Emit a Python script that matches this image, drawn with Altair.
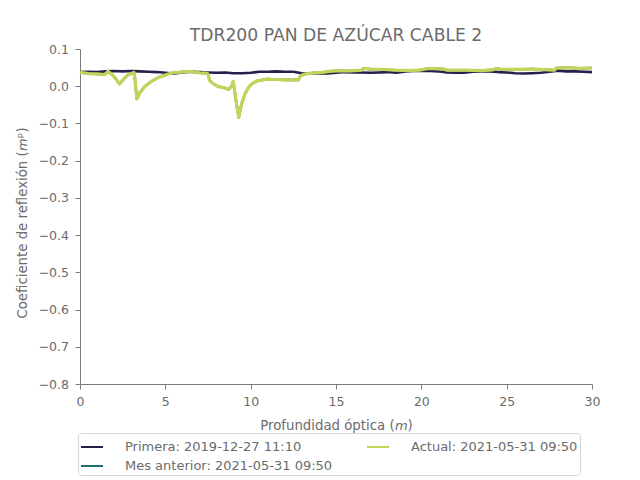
import altair as alt
import pandas as pd

# ---- data ----
primera_x = [i * 0.5 for i in range(61)]
primera_y = [0.038, 0.039, 0.038, 0.040, 0.041, 0.040, 0.041, 0.040, 0.039, 0.038,
             0.036, 0.034, 0.037, 0.039, 0.038, 0.037, 0.036, 0.037, 0.035, 0.035,
             0.036, 0.039, 0.039, 0.040, 0.039, 0.039, 0.035, 0.034, 0.035, 0.034,
             0.036, 0.038, 0.037, 0.037, 0.036, 0.037, 0.038, 0.036, 0.039, 0.041,
             0.042, 0.041, 0.040, 0.037, 0.036, 0.036, 0.039, 0.040, 0.040, 0.038,
             0.037, 0.035, 0.034, 0.035, 0.036, 0.039, 0.042, 0.040, 0.040, 0.039,
             0.038]

actual_x = [0, 0.5, 1.0, 1.45, 1.64, 1.84, 2.1, 2.32, 2.48, 2.81, 3.16, 3.22, 3.33,
            3.5, 3.79, 4.18, 4.67, 5.16, 5.5, 5.9, 6.3, 6.6, 7.0, 7.4, 7.5, 7.6, 7.8,
            8.1, 8.5, 8.7, 8.89, 8.98, 9.14, 9.3, 9.47, 9.67, 9.85, 10.06, 10.35,
            10.94, 11.5, 12.0, 12.5, 12.8, 12.9, 13.3, 13.8, 14.2, 14.6, 15.2, 15.9,
            16.5, 16.6, 17.0, 17.8, 18.5, 19.2, 19.9, 20.4, 21.3, 21.5, 22.5, 23.5,
            24.2, 24.4, 24.6, 25.5, 26.5, 27.5, 27.8, 27.9, 28.5, 29.2, 30.0]
actual_y = [0.037, 0.034, 0.033, 0.031, 0.040, 0.033, 0.020, 0.006, 0.015, 0.031,
            0.037, 0.020, -0.034, -0.018, -0.001, 0.013, 0.025, 0.033, 0.037, 0.038,
            0.040, 0.039, 0.036, 0.035, 0.033, 0.015, 0.007, -0.001, -0.005, -0.009,
            0.001, 0.013, -0.039, -0.084, -0.048, -0.020, -0.005, 0.006, 0.014,
            0.019, 0.018, 0.017, 0.017, 0.017, 0.028, 0.034, 0.036, 0.037, 0.040,
            0.042, 0.041, 0.043, 0.048, 0.046, 0.045, 0.043, 0.042, 0.043, 0.048,
            0.046, 0.043, 0.043, 0.042, 0.044, 0.048, 0.046, 0.045, 0.046, 0.044,
            0.043, 0.049, 0.050, 0.048, 0.049]

# previous month is the same measurement as the current one
mes_x = list(actual_x)
mes_y = list(actual_y)

lab_primera = "Primera: 2019-12-27 11:10"
lab_mes = "Mes anterior: 2021-05-31 09:50"
lab_actual = "Actual: 2021-05-31 09:50"

domain = [lab_primera, lab_mes, lab_actual]
colors = ["#22214f", "#1f6e72", "#c6d35b"]

df_p = pd.DataFrame({"x": primera_x, "y": primera_y, "serie": lab_primera})
df_m = pd.DataFrame({"x": mes_x, "y": mes_y, "serie": lab_mes})
df_a = pd.DataFrame({"x": actual_x, "y": actual_y, "serie": lab_actual})

TXT = "#6b6b6b"
AX = "#7a7a7a"

xenc = alt.X("x:Q", scale=alt.Scale(domain=[0, 30], nice=False, zero=False),
             axis=alt.Axis(values=[0, 5, 10, 15, 20, 25, 30], format="d", labelFlush=False,
                           title="Profundidad óptica (\U0001D62E)", titlePadding=10))
yenc = alt.Y("y:Q", scale=alt.Scale(domain=[-0.8, 0.1], nice=False, zero=False),
             axis=alt.Axis(values=[0.1, 0.0, -0.1, -0.2, -0.3, -0.4, -0.5, -0.6, -0.7, -0.8],
                           format=".1f", labelFlush=False, titleY=173.5,
                           title="Coeficiente de reflexión (\U0001D62Eᵖ)", titlePadding=9))
cenc = alt.Color("serie:N", scale=alt.Scale(domain=domain, range=colors),
                 legend=alt.Legend(title=None, orient="none", legendX=-2, legendY=384,
                                   values=domain,
                                   columns=2, columnPadding=30, rowPadding=-3,
                                   symbolType="stroke", symbolSize=484,
                                   symbolStrokeWidth=2, labelOffset=21, labelLimit=400,
                                   labelFontSize=13, labelColor=TXT, labelFont="DejaVu Sans",
                                   padding=2, strokeColor="#d6d6d6", cornerRadius=3,
                                   fillColor="white"))

def layer(df, sw):
    return alt.Chart(df).mark_line(strokeWidth=sw, strokeJoin="round").encode(
        x=xenc, y=yenc, color=cenc)

chart = alt.layer(layer(df_p, 2.6), layer(df_m, 2.6), layer(df_a, 3.2)).properties(
    width=512, height=335,
    title=alt.TitleParams("TDR200 PAN DE AZÚCAR CABLE 2", fontSize=17.2,
                          font="DejaVu Sans", fontWeight="normal", color=TXT,
                          frame="group", offset=-1),
    autosize=alt.AutoSizeParams(type="none"),
    padding={"left": 72, "top": 41, "right": 30, "bottom": 100},
).configure_view(stroke=None).configure_axis(
    grid=False, domainColor=AX, tickColor=AX, tickSize=5, labelPadding=6.5,
    labelFont="DejaVu Sans", labelFontSize=12.5, labelColor=TXT,
    titleFont="DejaVu Sans", titleFontSize=13.3, titleColor=TXT, titleFontWeight="normal",
    domainWidth=1, tickWidth=1,
)

chart.save("out.html", embed_options={"renderer": "svg", "actions": False})
